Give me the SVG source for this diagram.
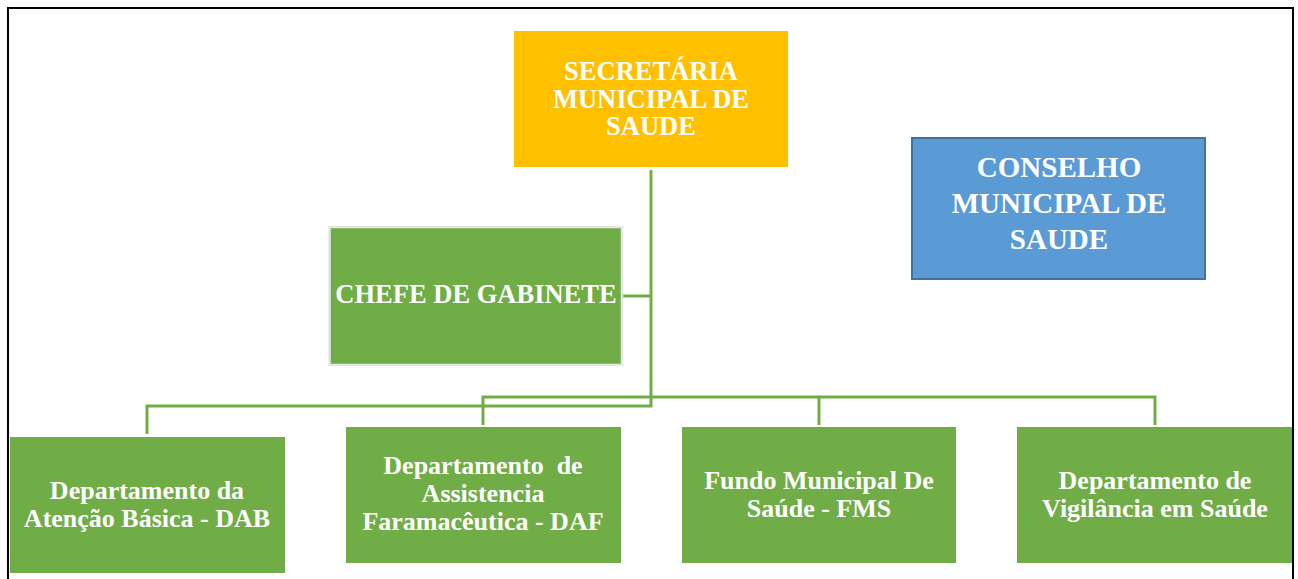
<svg xmlns="http://www.w3.org/2000/svg" width="1298" height="579" viewBox="0 0 1298 579">
<style>
.t{font-family:"Liberation Serif","Times New Roman",serif;font-weight:bold;fill:#ffffff;text-anchor:middle;font-size:26.5px}
.s{font-size:26px}
.big{font-size:29px}
.g{fill:#70AD47}
.c{fill:none;stroke:#70AD47;stroke-width:3}
</style>
<rect x="0" y="0" width="1298" height="579" fill="#ffffff"/>
<rect x="8" y="8" width="1285" height="600" fill="none" stroke="#000000" stroke-width="2"/>
<g id="connectors">
<path class="c" d="M651,170 V406 H147 V434"/>
<path class="c" d="M623,296 H651"/>
<path class="c" d="M483,425 V397 H1155 V425"/>
<path class="c" d="M819,397 V425"/>
</g>
<g id="secretaria">
<rect x="514" y="31" width="274" height="136" fill="#FFC000"/>
<text class="t" x="651" y="80">SECRETÁRIA</text>
<text class="t" x="651" y="107.5">MUNICIPAL DE</text>
<text class="t" x="651" y="135">SAUDE</text>
</g>
<g id="conselho">
<rect x="912" y="138" width="293" height="141" fill="#5B9BD5" stroke="#41719C" stroke-width="2"/>
<text class="t big" x="1059" y="177">CONSELHO</text>
<text class="t big" x="1059" y="213">MUNICIPAL DE</text>
<text class="t big" x="1059" y="249">SAUDE</text>
</g>
<g id="chefe">
<rect x="329.5" y="227" width="292.5" height="138" class="g" stroke="#E7E6E6" stroke-width="2.5"/>
<text class="t" x="476" y="303">CHEFE DE GABINETE</text>
</g>
<g id="dab">
<rect x="10" y="437" width="275" height="136" class="g"/>
<text class="t s" x="147" y="499">Departamento da</text>
<text class="t s" x="147" y="527">Atenção Básica - DAB</text>
</g>
<g id="daf">
<rect x="346" y="427" width="275" height="136" class="g"/>
<text class="t s" x="483" y="474" xml:space="preserve">Departamento  de</text>
<text class="t s" x="483" y="502">Assistencia</text>
<text class="t s" x="483" y="530">Faramacêutica - DAF</text>
</g>
<g id="fms">
<rect x="682" y="427" width="274" height="136" class="g"/>
<text class="t s" x="819" y="489">Fundo Municipal De</text>
<text class="t s" x="819" y="517">Saúde - FMS</text>
</g>
<g id="vigilancia">
<rect x="1017" y="427" width="275" height="136" class="g"/>
<text class="t s" x="1155" y="489">Departamento de</text>
<text class="t s" x="1155" y="517">Vigilância em Saúde</text>
</g>
</svg>
